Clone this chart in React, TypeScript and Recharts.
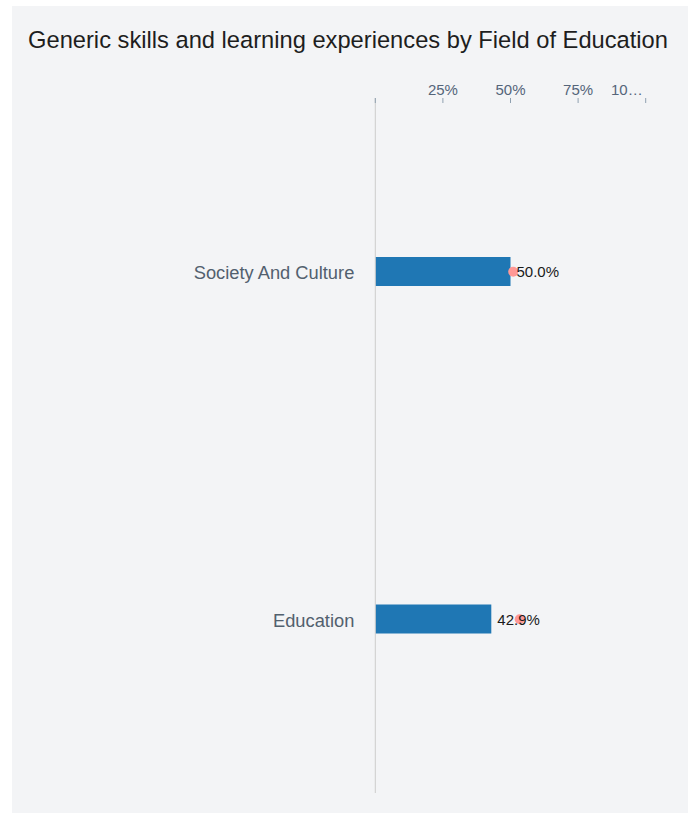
import React from "react";
import { ComposedChart, Bar, Line, XAxis, YAxis, LabelList } from "recharts";

const categories = ["Society And Culture", "Education"];
const values = [50.0, 42.9];
const benchmark = [51.0, 53.4];
const xTicks = [0, 25, 50, 75, 100];
const xTickLabels = ["", "25%", "50%", "75%", "10…"];

const data = categories.map((name, i) => ({ name, value: values[i], benchmark: benchmark[i] }));

const TICK_MARGIN = 3;

const XTick = (props: any) => {
  const { x, y, payload, index } = props;
  const idx = xTicks.indexOf(payload.value);
  const label = xTickLabels[idx >= 0 ? idx : index];
  const last = idx === xTicks.length - 1;
  return (
    <g>
      <line x1={x} x2={x} y1={y + TICK_MARGIN} y2={y + TICK_MARGIN + 5} stroke="#8fa0b0" strokeWidth={1} />
      <text x={last ? x - 3 : x} y={y} textAnchor={last ? "end" : "middle"} fill="#55657a" fontSize={15}>
        {label}
      </text>
    </g>
  );
};

const YTick = (props: any) => {
  const { x, y, payload } = props;
  return (
    <text x={x} y={y} dy={7.5} textAnchor="end" fill="#52606e" fontSize={18.3}>
      {payload.value}
    </text>
  );
};

export default function App() {
  return (
    <div
      style={{
        position: "absolute",
        left: 12,
        top: 6,
        width: 676,
        height: 807,
        background: "#f3f4f6",
        fontFamily: "'Liberation Sans', Arial, sans-serif",
      }}
    >
      <div
        style={{
          position: "absolute",
          left: 0,
          top: 20,
          width: 672,
          textAlign: "center",
          fontSize: 23.7,
          lineHeight: "28px",
          color: "#1e1e1e",
          whiteSpace: "nowrap",
        }}
      >
        Generic skills and learning experiences by Field of Education
      </div>
      <div style={{ position: "absolute", left: 0, top: 0 }}>
        <ComposedChart
          layout="vertical"
          width={676}
          height={807}
          data={data}
          margin={{ top: 62, right: 42.3, bottom: 20, left: 0 }}
        >
          <XAxis
            type="number"
            orientation="top"
            domain={[0, 100]}
            ticks={xTicks}
            interval={0}
            height={30}
            axisLine={false}
            tickLine={false}
            tickSize={0}
            tickMargin={TICK_MARGIN}
            tick={<XTick />}
          />
          <YAxis
            type="category"
            dataKey="name"
            width={363.3}
            axisLine={{ stroke: "#cccccc" }}
            tickLine={false}
            tickMargin={15}
            tick={<YTick />}
          />
          <Bar dataKey="value" fill="#1f77b4" barSize={29} isAnimationActive={false} />
          <Line
            dataKey="benchmark"
            stroke="none"
            dot={{ r: 5, fill: "#ff9896", stroke: "none" }}
            activeDot={false}
            isAnimationActive={false}
          />
          <Line dataKey="value" stroke="none" dot={false} activeDot={false} isAnimationActive={false}>
            <LabelList
              dataKey="value"
              position="right"
              offset={6}
              formatter={(v: any) => `${Number(v).toFixed(1)}%`}
              fill="#1a1a1a"
              fontSize={15}
            />
          </Line>
        </ComposedChart>
      </div>
    </div>
  );
}
